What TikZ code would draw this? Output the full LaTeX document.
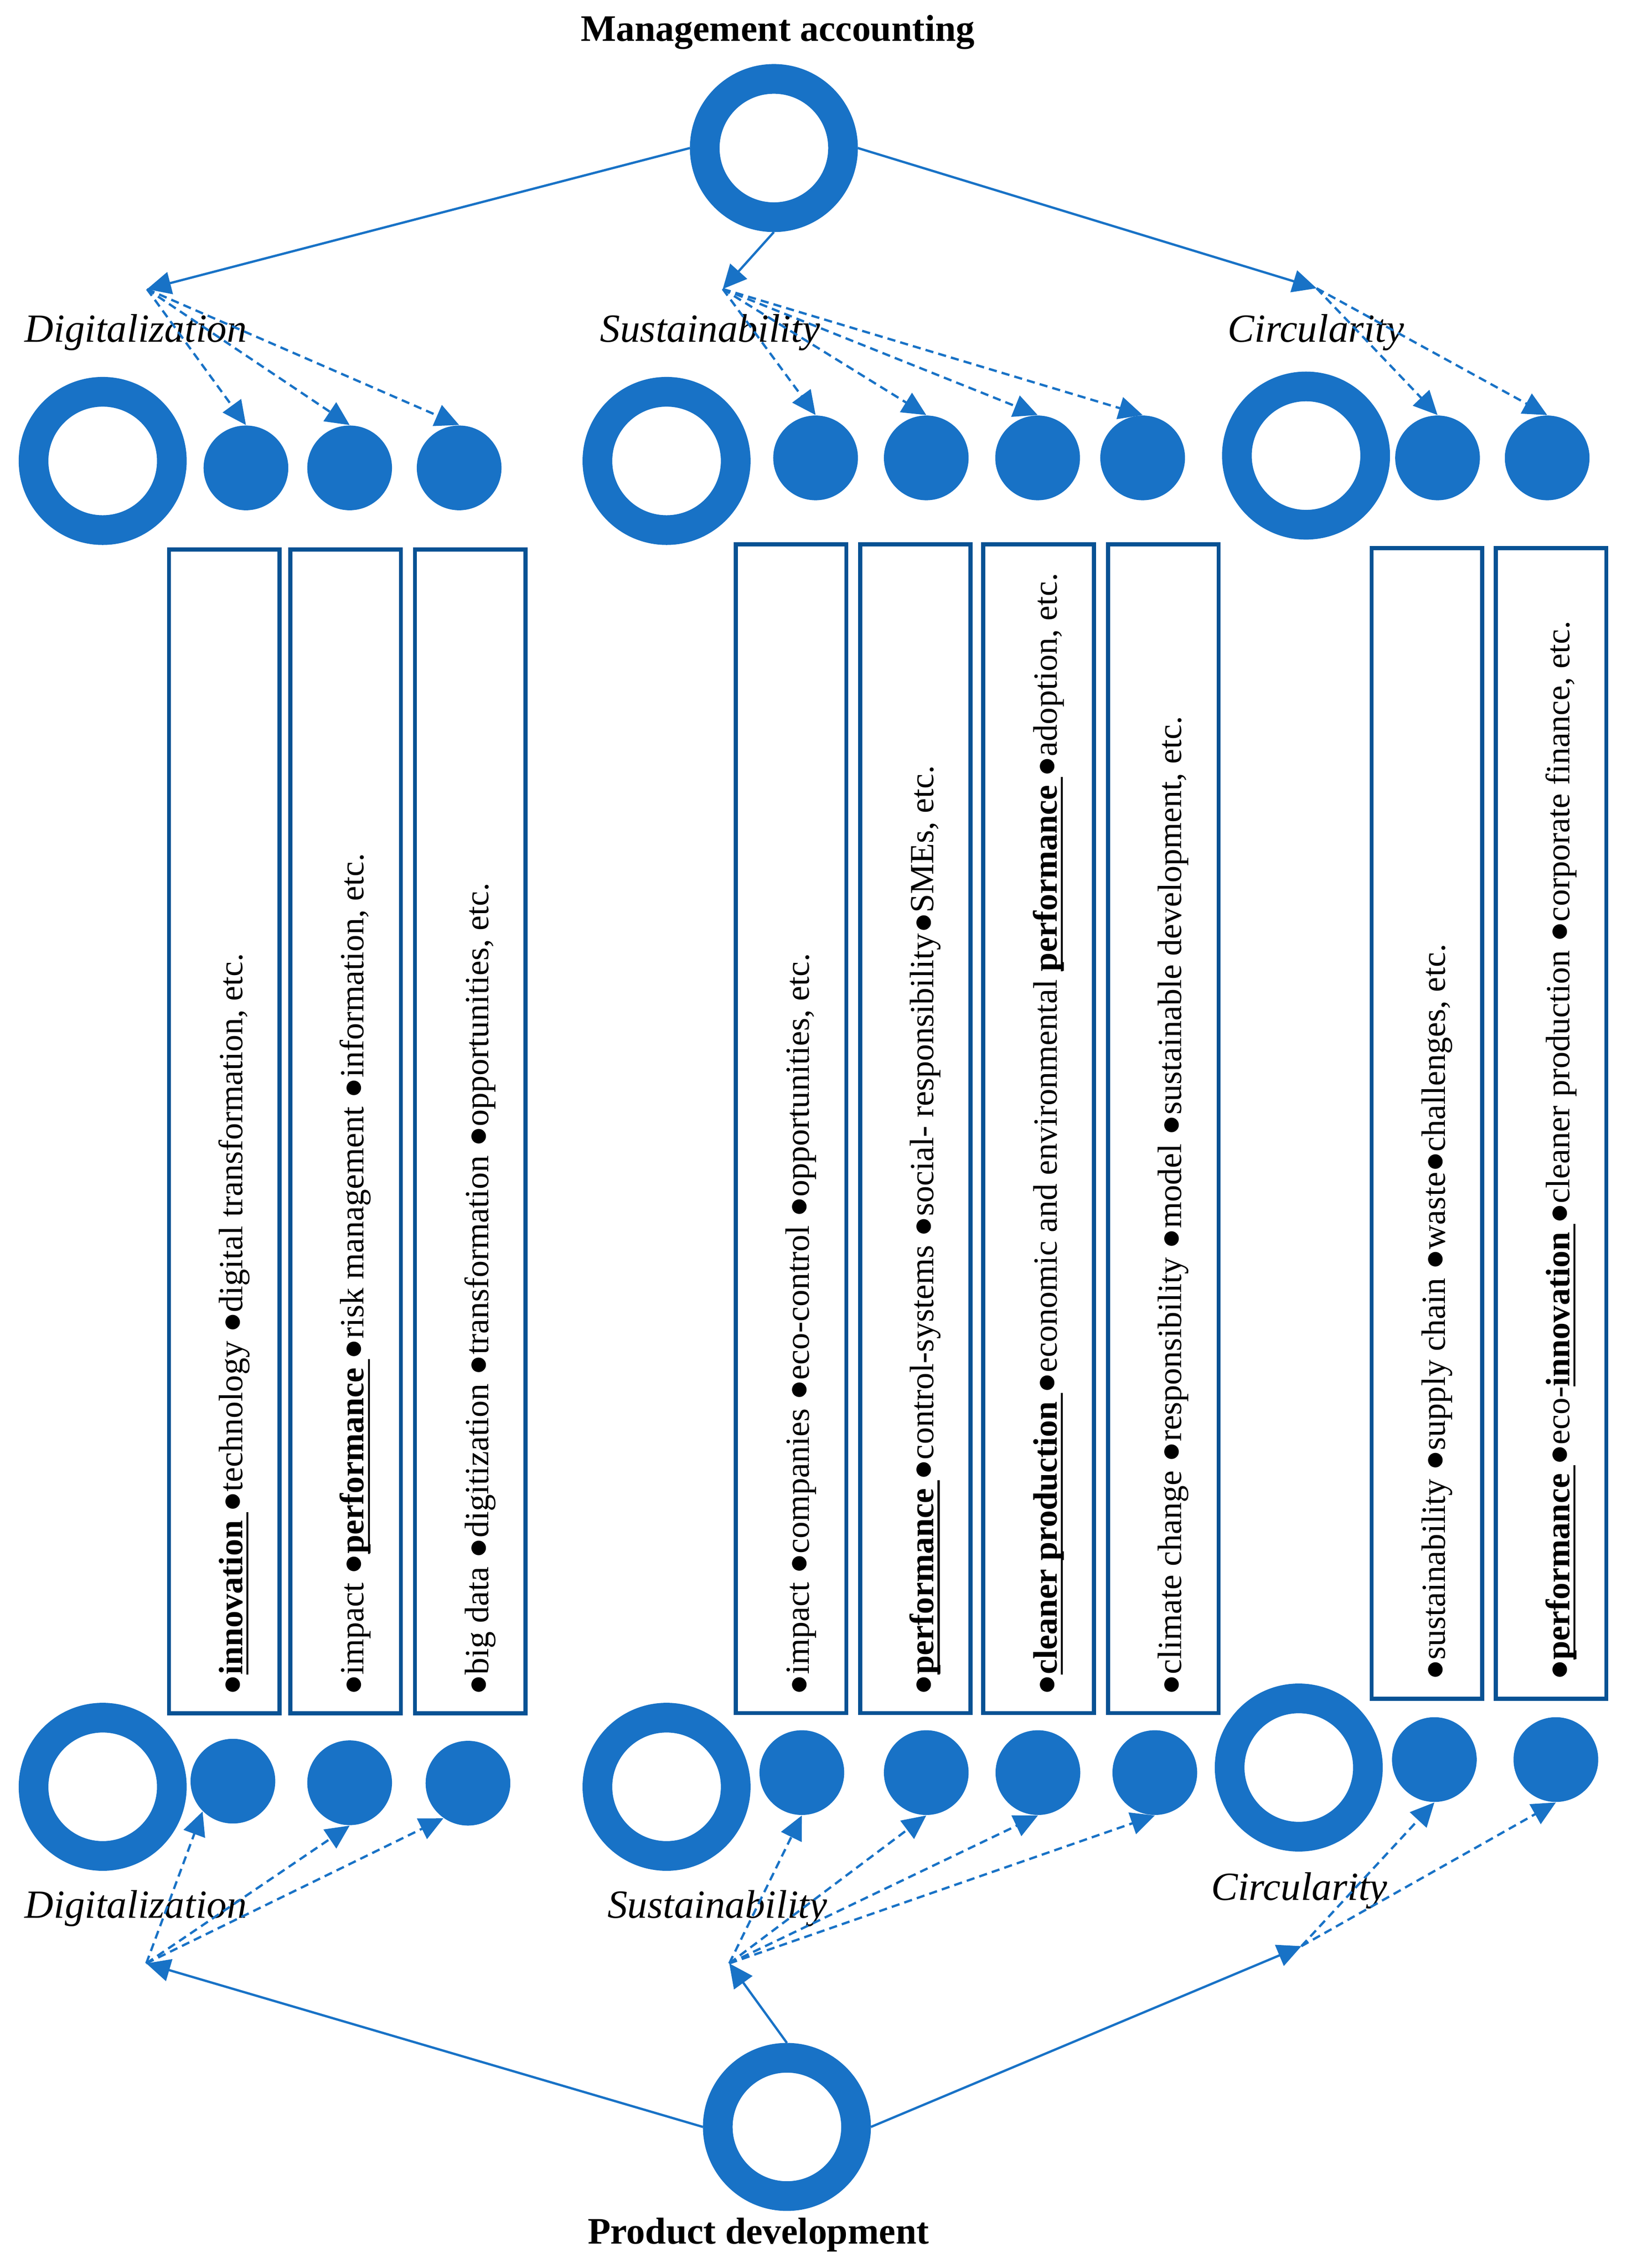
\documentclass[tikz,border=0pt]{standalone}
\usepackage{fontspec}
\setmainfont{Liberation Serif}
\usetikzlibrary{arrows.meta}
\definecolor{ringblue}{RGB}{24,114,198}
\definecolor{boxblue}{RGB}{8,82,148}
\newcommand{\kw}[1]{\setbox0\hbox{\textbf{#1}}\rlap{\rule[-2.4pt]{\wd0}{0.8pt}}\box0}
\begin{document}
\begin{tikzpicture}[x=0.02cm,y=-0.02cm,>={Triangle[length=0.33cm,width=0.31cm]},
	ring/.style={circle,draw=ringblue,line width=0.41cm,minimum size=1.91cm,inner sep=0pt},
	fdot/.style={circle,fill=ringblue,minimum size=1.17cm,inner sep=0pt},
	kbox/.style={draw=boxblue,line width=1.6pt,minimum width=1.526cm,inner sep=0pt},
	ktext/.style={rotate=90,anchor=base west,inner sep=0pt,font=\fontsize{13.3}{16}\selectfont},
	topic/.style={anchor=base,inner sep=0pt,font=\fontsize{15.7}{18}\selectfont\itshape},
	maintitle/.style={anchor=base,inner sep=0pt,font=\fontsize{14.7}{17}\selectfont\bfseries},
	link/.style={->,draw=ringblue,line width=0.9pt},
	dlink/.style={->,draw=ringblue,line width=0.9pt,dash pattern=on 3.2pt off 2pt}]
	\useasboundingbox (0,0) rectangle (1123,1565.7);
	%top
	\node[maintitle] (ma) at (537,28.5) {Management accounting};
	\node[ring] (rma) at (534.3,102.2) {};
	\coordinate (hubD) at (101.5,199.6);
	\coordinate (hubS) at (499,199.5);
	\coordinate (hubC) at (909,199);
	\draw[link] (rma.west)--(hubD);
	\draw[link] (rma.south)--(hubS);
	\draw[link] (rma.east)--(hubC);
	\node[topic] (tD) at (93.8,236.1) {Digitalization};
	\node[topic] (tS) at (490.3,236.1) {Sustainability};
	\node[topic] (tC) at (908.5,236.1) {Circularity};
	\node[ring] (rD) at (70.9,318.2) {};
	\node[ring] (rS) at (460.2,318.2) {};
	\node[ring] (rC) at (901.7,314.5) {};
	\foreach \x [count=\i] in {169.8,241.4,317}
		\node[fdot] (dD\i) at (\x,323) {};
	\foreach \x [count=\i] in {563.1,639.5,716.4,788.9}
		\node[fdot] (dS\i) at (\x,316.1) {};
	\foreach \x [count=\i] in {992.5,1068.2}
		\node[fdot] (dC\i) at (\x,316.1) {};
	\foreach \i in {1,2,3} \draw[dlink] (hubD)--(dD\i.north);
	\foreach \i in {1,...,4} \draw[dlink] (hubS)--(dS\i.north);
	\foreach \i in {1,2} \draw[dlink] (hubC)--(dC\i.north);
	%boxes
	\foreach \x [count=\i] in {154.85,238.65,324.65}
		\node[kbox,minimum height=16.07cm] (bD\i) at (\x,781.05) {};
	\foreach \x [count=\i] in {546.15,632,717.05,803.2}
		\node[kbox,minimum height=16.14cm] (bS\i) at (\x,779.15) {};
	\foreach \x [count=\i] in {985.15,1070.95}
		\node[kbox,minimum height=15.89cm] (bC\i) at (\x,775.65) {};
	\node[ktext] (kD1) at ([xshift=0.25cm,yshift=0.27cm]bD1.south) {●\kw{innovation }●technology ●digital transformation, etc.};
	\node[ktext] (kD2) at ([xshift=0.25cm,yshift=0.27cm]bD2.south) {●impact ●\kw{performance }●risk management ●information, etc.};
	\node[ktext] (kD3) at ([xshift=0.25cm,yshift=0.27cm]bD3.south) {●big data ●digitization ●transformation ●opportunities, etc.};
	\node[ktext] (kS1) at ([xshift=0.25cm,yshift=0.27cm]bS1.south) {●impact ●companies ●eco-control ●opportunities, etc.};
	\node[ktext] (kS2) at ([xshift=0.25cm,yshift=0.27cm]bS2.south) {●\kw{performance }●control-systems ●social- responsibility●SMEs, etc.};
	\node[ktext] (kS3) at ([xshift=0.25cm,yshift=0.27cm]bS3.south) {●\kw{cleaner production }●economic and environmental \kw{performance }●adoption, etc.};
	\node[ktext] (kS4) at ([xshift=0.25cm,yshift=0.27cm]bS4.south) {●climate change ●responsibility ●model ●sustainable development, etc.};
	\node[ktext] (kC1) at ([xshift=0.25cm,yshift=0.28cm]bC1.south) {●sustainability ●supply chain ●waste●challenges, etc.};
	\node[ktext] (kC2) at ([xshift=0.25cm,yshift=0.28cm]bC2.south) {●\kw{performance }●eco-\kw{innovation }●cleaner production ●corporate finance, etc.};
	%bottom
	\node[ring] (rDb) at (70.9,1233.5) {};
	\node[ring] (rSb) at (460.2,1233.5) {};
	\node[ring] (rCb) at (896.7,1220.2) {};
	\foreach \x/\y [count=\i] in {160.8/1229.6,241.4/1230.7,323.1/1231}
		\node[fdot] (eD\i) at (\x,\y) {};
	\foreach \x [count=\i] in {553.6,639.5,716.6,797.3}
		\node[fdot] (eS\i) at (\x,1223.7) {};
	\foreach \x [count=\i] in {990.3,1074.2}
		\node[fdot] (eC\i) at (\x,1214.7) {};
	\node[topic] (bD) at (93.8,1324) {Digitalization};
	\node[topic] (bS) at (495.3,1324) {Sustainability};
	\node[topic] (bC) at (897.1,1311.9) {Circularity};
	\coordinate (hubDb) at (101,1355.4);
	\coordinate (hubSb) at (503.5,1355.4);
	\coordinate (hubCb) at (898.5,1343.5);
	\draw[dlink] (hubDb)--(eD1.south west);
	\draw[dlink] (hubDb)--(eD2.south);
	\draw[dlink] (hubDb)--(eD3.235);
	\foreach \i in {1,...,4} \draw[dlink] (hubSb)--(eS\i.south);
	\foreach \i in {1,2} \draw[dlink] (hubCb)--(eC\i.south);
	\node[ring] (rpd) at (543.3,1468.3) {};
	\node[maintitle] (pd) at (523.6,1549) {Product development};
	\draw[link] (rpd.west)--(hubDb);
	\draw[link] (rpd.north)--(hubSb);
	\draw[link] (rpd.east)--(hubCb);
\end{tikzpicture}
\end{document}
